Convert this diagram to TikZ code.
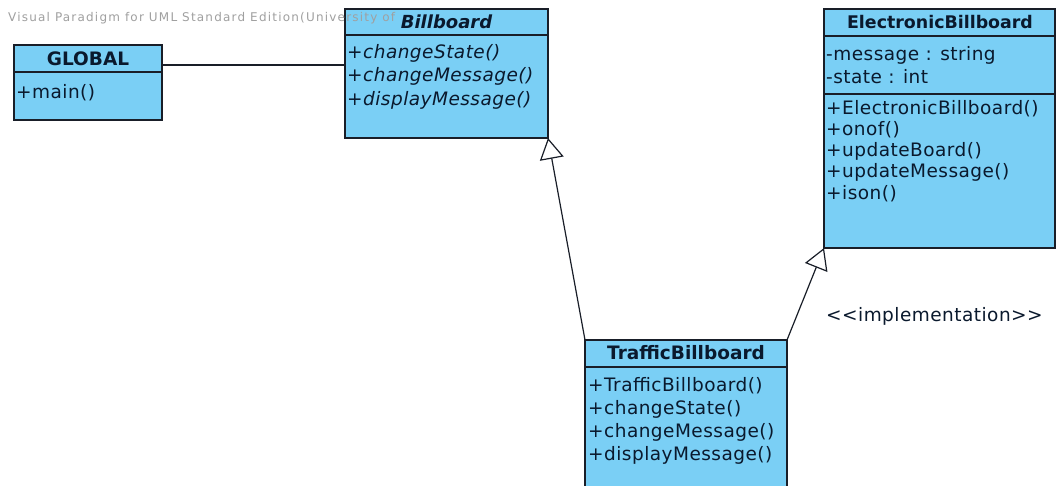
\documentclass[tikz,border=0pt]{standalone}
\usepackage{fontspec}
\setmainfont{DejaVu Sans}
\newfontfamily\memfont[LetterSpace=2.5]{DejaVu Sans}
\newfontfamily\wmfont[LetterSpace=10]{DejaVu Sans}
\usetikzlibrary{arrows.meta}
\definecolor{umlfill}{RGB}{122,207,245}
\definecolor{umlline}{RGB}{25,30,40}
\definecolor{umltext}{RGB}{10,25,45}
\definecolor{wmark}{RGB}{160,160,160}
\tikzset{
  classbox/.style={draw=umlline, line width=1.5pt, fill=umlfill, anchor=north west, inner sep=0pt, outer sep=0pt},
  sepline/.style={draw=umlline, line width=1.3pt},
  member/.style={anchor=west, inner sep=0pt, text=umltext, font=\memfont\fontsize{18.5}{20}\selectfont},
  imember/.style={member, font=\memfont\fontsize{18.5}{20}\selectfont\itshape},
  header/.style={anchor=center, inner sep=0pt, text=umltext, font=\fontsize{18.5}{20}\selectfont\bfseries},
  conn/.style={draw=umlline, line width=1.2pt},
  gen/.style={conn, -{Triangle[open, length=21pt, width=24pt, line width=1.2pt]}},
  watermark/.style={anchor=west, inner sep=0pt, text=wmark, font=\wmfont\fontsize{12}{13}\selectfont}
}
\begin{document}
\begin{tikzpicture}[x=1pt,y=-1pt]
\useasboundingbox (0,0) rectangle (1056,485);
\clip (0,0) rectangle (1056,485);
\fill[white] (0,0) rectangle (1056,485);

% GLOBAL
\node[classbox, minimum width=148pt, minimum height=75pt] (global) at (14,45) {};
\draw[sepline] (14,72) -- (162,72);
\node[header] (globalh) at (88,59) {GLOBAL};
\node[member] (globalm1) at (16,93) {+main()};

% Billboard
\node[classbox, minimum width=203pt, minimum height=129pt] (billboard) at (345,9) {};
\draw[sepline] (345,35) -- (548,35);
\node[header, font=\fontsize{18}{20}\selectfont\bfseries\itshape] (billh) at (446.5,22) {Billboard};
\node[imember] (billm1) at (347,53) {+changeState()};
\node[imember] (billm2) at (347,76.5) {+changeMessage()};
\node[imember] (billm3) at (347,100) {+displayMessage()};

% ElectronicBillboard
\node[classbox, minimum width=231pt, minimum height=239pt] (elec) at (824,9) {};
\draw[sepline] (824,36) -- (1055,36);
\draw[sepline] (824,94) -- (1055,94);
\node[header, font=\fontsize{17.4}{20}\selectfont\bfseries] (elech) at (940,22) {ElectronicBillboard};
\node[member] (eleca1) at (826,55) {-message : string};
\node[member] (eleca2) at (826,77) {-state : int};
\node[member] (elecm1) at (826,109) {+ElectronicBillboard()};
\node[member] (elecm2) at (826,130) {+onof()};
\node[member] (elecm3) at (826,151) {+updateBoard()};
\node[member] (elecm4) at (826,172.5) {+updateMessage()};
\node[member] (elecm5) at (826,194) {+ison()};

% TrafficBillboard
\node[classbox, minimum width=202pt, minimum height=170pt] (traffic) at (585,340) {};
\draw[sepline] (585,367) -- (787,367);
\node[header] (traffich) at (686,353) {TrafficBillboard};
\node[member] (trafm1) at (588,386) {+TrafficBillboard()};
\node[member] (trafm2) at (588,409) {+changeState()};
\node[member] (trafm3) at (588,432) {+changeMessage()};
\node[member] (trafm4) at (588,455) {+displayMessage()};

% connectors
\draw[conn] (global.north east) ++(0,20) coordinate (assocA) -- (assocA -| billboard.west);
\draw[gen] (traffic.north west) -- (billboard.south east);
\draw[gen] (traffic.north east) -- (elec.south west);
\node[member] (impl) at (826,316.5) {<{}<implementation>{}>};

% watermark
\node[watermark] (wm) at (8,18.5) {Visual Paradigm for UML Standard Edition(University of};
\end{tikzpicture}
\end{document}
